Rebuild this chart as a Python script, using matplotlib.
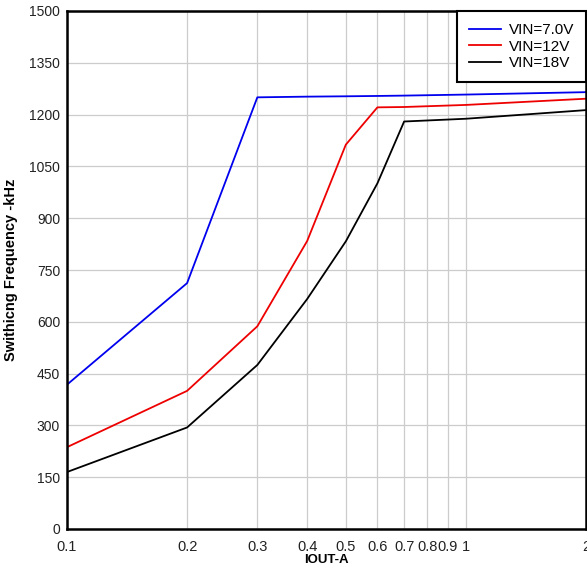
import matplotlib.pyplot as plt
from matplotlib.ticker import FixedLocator, NullLocator

plt.rcParams['font.family'] = ['Liberation Sans', 'DejaVu Sans']

iout = [0.1, 0.2, 0.3, 0.4, 0.5, 0.6, 0.7, 1.0, 2.0]
vin_7v = [418, 712, 1250, 1252, 1253, 1254, 1255, 1258, 1265]
vin_12v = [237, 400, 587, 834, 1113, 1221, 1222, 1228, 1246]
vin_18v = [165, 294, 475, 666, 833, 1001, 1180, 1188, 1213]

xticks = [0.1, 0.2, 0.3, 0.4, 0.5, 0.6, 0.7, 0.8, 0.9, 1, 2]
xlabels = ['0.1', '0.2', '0.3', '0.4', '0.5', '0.6', '0.7', '0.8', '0.9', '1', '2']
yticks = list(range(0, 1501, 150))

fig = plt.figure(figsize=(5.87, 5.68), dpi=100)
ax = fig.add_axes([67 / 587, 39 / 568, 519 / 587, 518 / 568])

ax.plot(iout, vin_7v, color='#0000ee', lw=1.3, label='VIN=7.0V')
ax.plot(iout, vin_12v, color='#ee0000', lw=1.3, label='VIN=12V')
ax.plot(iout, vin_18v, color='black', lw=1.3, label='VIN=18V')

ax.set_xscale('log')
ax.set_xlim(0.1, 2)
ax.set_ylim(0, 1500)
ax.xaxis.set_major_locator(FixedLocator(xticks))
ax.xaxis.set_minor_locator(NullLocator())
ax.set_xticklabels(xlabels)
ax.set_yticks(yticks)

ax.grid(True, color='#cccccc', lw=0.9)
ax.set_axisbelow(True)
ax.tick_params(length=0, labelsize=10, colors='#222222')
ax.tick_params(axis='x', labelsize=10.5, pad=8)
ax.tick_params(axis='y', pad=5)
for s in ax.spines.values():
    s.set_linewidth(1.8)

ax.set_xlabel('IOUT-A', fontsize=9.5, fontweight='bold', labelpad=0)
ax.set_ylabel('Swithicng Frequency -kHz', fontsize=10.5, fontweight='bold', labelpad=8)

leg = ax.legend(loc='upper right', fontsize=11, frameon=True, fancybox=False,
                borderaxespad=0, handlelength=2.1, labelspacing=0.18,
                borderpad=0.78, handletextpad=0.5)
leg.get_frame().set_edgecolor('black')
leg.get_frame().set_linewidth(1.5)
leg.get_frame().set_alpha(1)

fig.savefig('out.png', dpi=100)
